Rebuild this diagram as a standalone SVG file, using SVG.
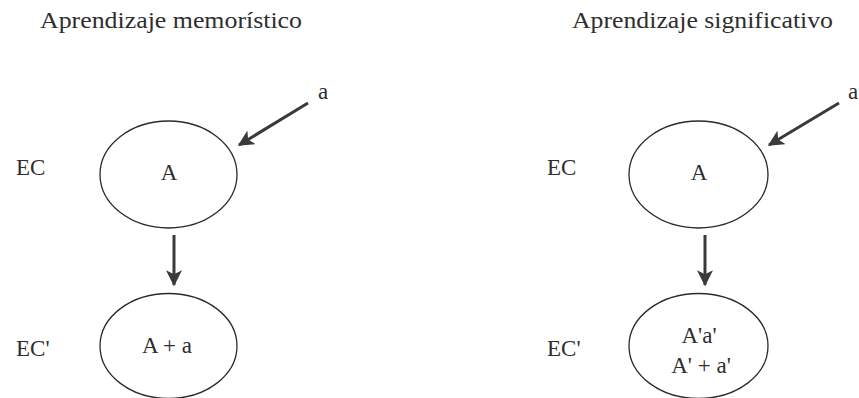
<svg xmlns="http://www.w3.org/2000/svg" width="859" height="398" viewBox="0 0 859 398">
  <style>
    text { font-family: "Liberation Serif", "DejaVu Serif", "Times New Roman", serif; fill: #2e2e2e; }
    .title { font-size: 24px; }
    .lbl { font-size: 23px; }
    .in { font-size: 23px; text-anchor: middle; }
    .node ellipse { fill: none; stroke: #2a2a2a; stroke-width: 1.3; }
    .conn line { stroke: #3a3a3a; stroke-width: 3; }
  </style>
  <defs>
    <marker id="arr" viewBox="0 0 12 12" refX="11" refY="6" markerWidth="16" markerHeight="16" markerUnits="userSpaceOnUse" orient="auto">
      <path d="M0,0 L12,6 L0,12 L3,6 Z" fill="#3a3a3a"/>
    </marker>
  </defs>

  <rect width="859" height="398" fill="#ffffff"/>

  <!-- column headings -->
  <text class="title" x="40" y="28" textLength="262" lengthAdjust="spacingAndGlyphs">Aprendizaje memorístico</text>
  <text class="title" x="572" y="28" textLength="261" lengthAdjust="spacingAndGlyphs">Aprendizaje significativo</text>

  <!-- row labels -->
  <text class="lbl" x="16" y="175">EC</text>
  <text class="lbl" x="16" y="356">EC'</text>
  <text class="lbl" x="547" y="175">EC</text>
  <text class="lbl" x="547" y="356">EC'</text>

  <!-- incoming items -->
  <text class="lbl" x="318" y="99">a</text>
  <text class="lbl" x="848" y="99">a</text>

  <!-- rote learning nodes -->
  <g id="rote-initial" class="node">
    <ellipse cx="168.5" cy="174.5" rx="68.5" ry="53.5"/>
    <text class="in" x="169" y="180">A</text>
  </g>
  <g id="rote-final" class="node">
    <ellipse cx="168.5" cy="346" rx="68.5" ry="52.5"/>
    <text class="in" x="167" y="353">A + a</text>
  </g>

  <!-- meaningful learning nodes -->
  <g id="meaningful-initial" class="node">
    <ellipse cx="698.5" cy="174.5" rx="69.5" ry="53.5"/>
    <text class="in" x="699" y="180">A</text>
  </g>
  <g id="meaningful-final" class="node">
    <ellipse cx="698.5" cy="346" rx="69.5" ry="52.5"/>
    <text class="in" x="699" y="343">A'a'</text>
    <text class="in" x="701" y="373">A' + a'</text>
  </g>

  <!-- connectors -->
  <g id="connectors" class="conn">
    <line x1="308" y1="103" x2="239" y2="145" marker-end="url(#arr)"/>
    <line x1="174" y1="235" x2="174" y2="285" marker-end="url(#arr)"/>
    <line x1="839" y1="103" x2="769" y2="145" marker-end="url(#arr)"/>
    <line x1="705" y1="235" x2="705" y2="285" marker-end="url(#arr)"/>
  </g>
</svg>
